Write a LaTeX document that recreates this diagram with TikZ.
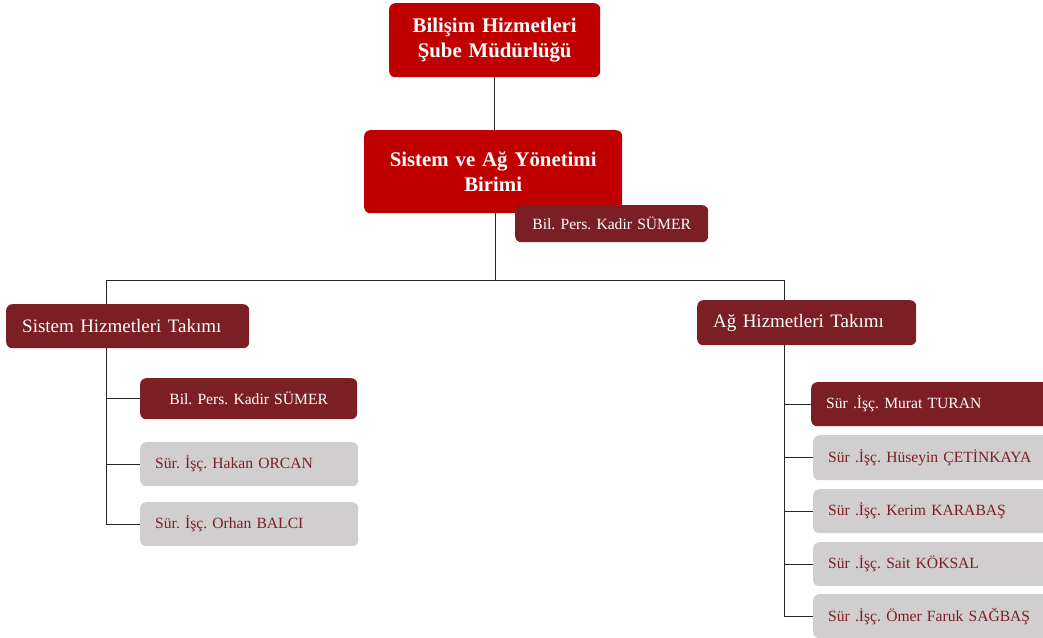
\documentclass[tikz,border=0pt]{standalone}
\usepackage{fontspec}
\setmainfont{Liberation Serif}
\frenchspacing
\definecolor{kirmizi}{HTML}{C00000}
\definecolor{bordo}{HTML}{7C1F24}
\definecolor{gri}{HTML}{D0CECE}
\begin{document}
\begin{tikzpicture}[x=1pt, y=-1pt,
		kutu/.style={rounded corners=6pt, inner ysep=0pt, anchor=north west},
		ust/.style={kutu, fill=kirmizi, text=white, inner xsep=0pt, align=center, font=\bfseries\fontsize{20.8}{24.5}\selectfont},
		takim/.style={kutu, fill=bordo, text=white, inner xsep=16pt, align=left, font=\fontsize{19}{22}\selectfont},
		sef/.style={kutu, fill=bordo, text=white, inner xsep=0pt, align=center, font=\fontsize{15.6}{18}\selectfont},
		sefsol/.style={kutu, fill=bordo, text=white, inner xsep=15pt, align=left, font=\fontsize{15.6}{18}\selectfont},
		isci/.style={kutu, fill=gri, text=bordo, inner xsep=15pt, align=left, font=\fontsize{15.6}{18}\selectfont},
		cizgi/.style={line width=1pt, black!85}]
		\useasboundingbox (0,0) rectangle (1043,637);
		\clip (0,0) rectangle (1043,637);
		\node[ust, text width=211pt, minimum height=74pt] (sube) at (389,3) {Bilişim Hizmetleri\\Şube Müdürlüğü};
		\node[ust, text width=258pt, minimum height=83pt] (birim) at (364,130) {Sistem ve Ağ Yönetimi\\Birimi};
		\node[sef, text width=193pt, minimum height=37pt] (birimsef) at (515,205) {Bil. Pers. Kadir SÜMER};
		\node[takim, text width=211pt, minimum height=44pt] (sistem) at (6,304) {Sistem Hizmetleri Takımı};
		\node[takim, text width=187pt, minimum height=45pt] (ag) at (697,300) {Ağ Hizmetleri Takımı};
		\node[sef, text width=217pt, minimum height=41pt] (s1) at (140,378) {Bil. Pers. Kadir SÜMER};
		\node[isci, text width=188pt, minimum height=44pt] (s2) at (140,442) {Sür. İşç. Hakan ORCAN};
		\node[isci, text width=188pt, minimum height=44pt] (s3) at (140,502) {Sür. İşç. Orhan BALCI};
		\node[sefsol, text width=210pt, minimum height=44pt] (a1) at (811,382) {Sür .İşç. Murat TURAN};
		\node[isci, text width=210pt, minimum height=45pt] (a2) at (813,435) {Sür .İşç. Hüseyin ÇETİNKAYA};
		\node[isci, text width=210pt, minimum height=44pt] (a3) at (813,489) {Sür .İşç. Kerim KARABAŞ};
		\node[isci, text width=210pt, minimum height=44pt] (a4) at (813,542) {Sür .İşç. Sait KÖKSAL};
		\node[isci, text width=210pt, minimum height=44pt] (a5) at (813,594) {Sür .İşç. Ömer Faruk SAĞBAŞ};
		\coordinate (orta) at (495,280);
		\coordinate (sol) at (106,280);
		\coordinate (sag) at (784,280);
		\draw[cizgi] (sube.south) -- (sube.south |- birim.north);
		\draw[cizgi] (birim.south -| orta) -- (orta);
		\draw[cizgi] (sol) -- (sag);
		\draw[cizgi] (sol) -- (sol |- sistem.north);
		\draw[cizgi] (sag) -- (sag |- ag.north);
		\draw[cizgi] (sol |- sistem.south) -- (sol |- s3.west) -- (s3.west);
		\draw[cizgi] (sag |- ag.south) -- (sag |- a5.west) -- (a5.west);
		\foreach \k in {s1,s2} \draw[cizgi] (sol |- \k.west) -- (\k.west);
		\foreach \k in {a1,a2,a3,a4} \draw[cizgi] (sag |- \k.west) -- (\k.west);
\end{tikzpicture}
\end{document}
